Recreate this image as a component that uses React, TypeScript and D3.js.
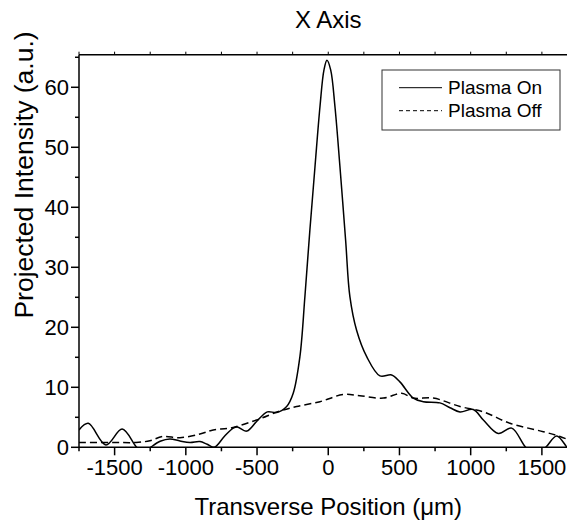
import React from "react";
import * as d3 from "d3";

const onX = [-1750, -1685, -1561, -1447, -1345, -1296, -1247, -1180, -1112, -1041, -971, -901, -850, -800, -730, -667, -639, -573, -503, -428, -362, -292, -246, -199, -164, -129, -93, -58, -30, -9, 17, 47, 82, 122, 152, 199, 270, 363, 445, 503, 597, 667, 784, 855, 925, 1018, 1089, 1194, 1288, 1386, 1456, 1527, 1604, 1676, 1700];
const onY = [2.9, 4.0, 0.4, 3.05, 0.0, -0.9, 0.0, 1.0, 1.4, 1.05, 0.8, 0.95, 0.5, 0.0, 1.8, 3.2, 3.4, 2.7, 4.3, 5.9, 5.8, 6.8, 9.0, 15.1, 25.1, 36.2, 46.8, 56.8, 62.9, 64.5, 62.9, 56.8, 46.8, 34.5, 25.1, 19.5, 15.1, 11.9, 12.05, 10.9, 8.2, 7.6, 7.4, 6.6, 5.9, 6.3, 4.55, 2.3, 3.2, 0.0, -1.3, 0.0, 1.9, 0.0, -0.6];

const offX = [-1750, -1500, -1350, -1252, -1161, -1041, -901, -808, -690, -503, -339, -222, -58, 105, 222, 387, 515, 597, 737, 925, 1089, 1276, 1510, 1627, 1700];
const offY = [0.8, 0.8, 0.8, 1.1, 1.8, 1.6, 2.2, 2.9, 3.2, 4.55, 6.05, 6.8, 7.6, 8.8, 8.6, 8.2, 9.0, 8.2, 8.2, 6.8, 5.9, 4.0, 2.6, 1.8, 1.1];

const xMajor = [-1500, -1000, -500, 0, 500, 1000, 1500];
const xMinor = [-1750, -1250, -750, -250, 250, 750, 1250, 1750];
const yMajor = [0, 10, 20, 30, 40, 50, 60];
const yMinor = [5, 15, 25, 35, 45, 55, 65];
const legendLabels = ["Plasma On", "Plasma Off"];

const W = 567;
const H = 523;
const L = 79;
const R = 577.5;
const T = 54.7;
const B = 447.3;

export default function App() {
  const x = d3.scaleLinear().domain([-1750, 1750]).range([L, R]);
  const y = d3.scaleLinear().domain([0, 65.43]).range([B, T]);
  const line = d3
    .line<[number, number]>()
    .x((d) => x(d[0]))
    .y((d) => y(d[1]))
    .curve(d3.curveCatmullRom.alpha(0.5));
  const onPts = onX.map((v, i) => [v, onY[i]] as [number, number]);
  const offPts = offX.map((v, i) => [v, offY[i]] as [number, number]);
  const font = "Arial, 'Liberation Sans', Helvetica, sans-serif";
  return (
    <svg
      width={W}
      height={H}
      style={{ position: "absolute", left: 0, top: 0, background: "#fff" }}
      fontFamily={font}
    >
      <defs>
        <clipPath id="plot">
          <rect x={L} y={T} width={R - L} height={B - T} />
        </clipPath>
      </defs>
      <g clipPath="url(#plot)" fill="none" stroke="#000">
        <path d={line(offPts) || ""} strokeWidth={1.5} strokeDasharray="7,4" />
        <path d={line(onPts) || ""} strokeWidth={1.5} />
      </g>
      <g stroke="#000" strokeWidth={1.5}>
        <line x1={L} x2={R} y1={B} y2={B} />
        <line x1={L} x2={R} y1={T} y2={T} />
        <line x1={L} x2={L} y1={T} y2={B} />
        {xMajor.map((v) => (
          <line key={"xm" + v} x1={x(v)} x2={x(v)} y1={B} y2={B + 8} />
        ))}
        {xMinor.map((v) => (
          <line key={"xn" + v} x1={x(v)} x2={x(v)} y1={B} y2={B + 4} />
        ))}
        {xMajor.concat(xMinor).map((v) => (
          <line key={"xt" + v} x1={x(v)} x2={x(v)} y1={T} y2={T - 3} strokeWidth={1} />
        ))}
        {yMajor.map((v) => (
          <line key={"ym" + v} x1={L} x2={L - 8} y1={y(v)} y2={y(v)} />
        ))}
        {yMinor.map((v) => (
          <line key={"yn" + v} x1={L} x2={L - 4} y1={y(v)} y2={y(v)} />
        ))}
      </g>
      <g fontSize={22} fill="#000">
        {xMajor.map((v) => (
          <text key={"xl" + v} x={x(v)} y={475} textAnchor="middle">
            {v}
          </text>
        ))}
        {yMajor.map((v) => (
          <text key={"yl" + v} x={69} y={y(v) + 8} textAnchor="end">
            {v}
          </text>
        ))}
      </g>
      <text x={(L + R) / 2} y={27.5} fontSize={24} textAnchor="middle">
        X Axis
      </text>
      <text x={(L + R) / 2} y={515} fontSize={24} textAnchor="middle">
        Transverse Position (μm)
      </text>
      <text
        transform={`translate(33,175) rotate(-90)`}
        fontSize={26.5}
        textAnchor="middle"
      >
        Projected Intensity (a.u.)
      </text>
      <rect x={382} y={70} width={178} height={60} fill="#fff" stroke="#333" strokeWidth={1} />
      <line x1={399} x2={442} y1={87.7} y2={87.7} stroke="#000" strokeWidth={1} />
      <line x1={399} x2={442} y1={110.7} y2={110.7} stroke="#000" strokeWidth={1} strokeDasharray="4,3" />
      <text x={448} y={94} fontSize={19}>
        {legendLabels[0]}
      </text>
      <text x={448} y={117.3} fontSize={19}>
        {legendLabels[1]}
      </text>
    </svg>
  );
}
